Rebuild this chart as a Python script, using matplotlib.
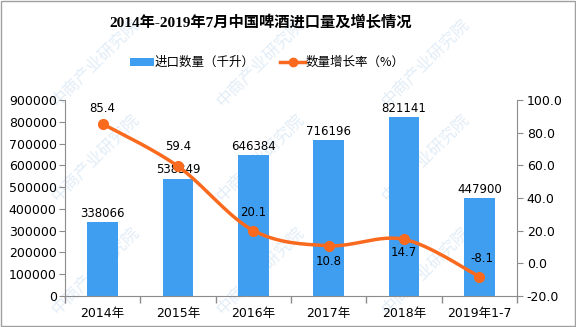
import numpy as np
import matplotlib
matplotlib.use("Agg")
import matplotlib.pyplot as plt
from matplotlib.patches import Rectangle

plt.rcParams['font.family'] = ['DejaVu Sans', 'Noto Sans CJK SC']

categories = ['2014年', '2015年', '2016年', '2017年', '2018年', '2019年1-7']
import_volume = [338066, 538349, 646384, 716196, 821141, 447900]
growth_rate = [85.4, 59.4, 20.1, 10.8, 14.7, -8.1]
left_ticks = [0, 100000, 200000, 300000, 400000, 500000, 600000, 700000, 800000, 900000]
right_ticks = [-20.0, 0.0, 20.0, 40.0, 60.0, 80.0, 100.0]

title = '2014年-2019年7月中国啤酒进口量及增长情况'
bar_label = '进口数量（千升）'
line_label = '数量增长率（%）'
watermark = '中商产业研究院'

BAR_C = '#409EF0'
LINE_C = '#FA6A1E'
AX_C = '#8C8C8C'

W, H = 576, 327
fig = plt.figure(figsize=(W / 100, H / 100), dpi=100)
fig.patch.set_facecolor('white')
fig.patches.append(Rectangle((0.001, 0.002), 0.997, 0.995, transform=fig.transFigure,
                             fill=False, edgecolor='#A0A0A0', linewidth=1.0))

ax = fig.add_axes([65 / W, 1 - 296 / H, (517 - 65) / W, (296 - 100) / H])
ax2 = ax.twinx()

x = np.arange(len(categories))
bars = ax.bar(x, import_volume, width=0.41, color=BAR_C, zorder=2)
ax.set_xlim(-0.5, len(categories) - 0.5)
ax.set_ylim(0, 900000)
ax.set_yticks(left_ticks)
ax.set_yticklabels([str(v) for v in left_ticks])
ax.set_xticks(x)
ax.set_xticklabels(categories)
ax.set_xticks(np.arange(-0.5, len(categories), 1.0), minor=True)
ax.tick_params(axis='x', which='major', length=0, pad=8, labelsize=9, colors='black')
ax.tick_params(axis='x', which='minor', length=5, color=AX_C, width=1)
ax.tick_params(axis='y', length=4, color=AX_C, labelsize=9, pad=2)

for s in ['top', 'right']:
    ax.spines[s].set_visible(False)
for s in ['left', 'bottom']:
    ax.spines[s].set_color(AX_C)
for s in ['top', 'left', 'bottom']:
    ax2.spines[s].set_visible(False)
ax2.spines['right'].set_color(AX_C)

for xi, v in zip(x, import_volume):
    ax.annotate(str(v), (xi, v), xytext=(0, 9), textcoords='offset pixels',
                ha='center', va='center', fontsize=8.5, zorder=5)

# smooth line (Excel-like Catmull-Rom bezier)
pts = np.column_stack([x.astype(float), np.array(growth_rate, dtype=float)])
ext = np.vstack([pts[0], pts, pts[-1]])
curve = []
t = np.linspace(0, 1, 30)[:, None]
for i in range(len(pts) - 1):
    p0 = ext[i + 1]
    p3 = ext[i + 2]
    c1 = p0 + (ext[i + 2] - ext[i]) / 6.0
    c2 = p3 - (ext[i + 3] - ext[i + 1]) / 6.0
    seg = ((1 - t) ** 3) * p0 + 3 * ((1 - t) ** 2) * t * c1 + 3 * (1 - t) * t ** 2 * c2 + t ** 3 * p3
    curve.append(seg if i == 0 else seg[1:])
curve = np.vstack(curve)
ax2.plot(curve[:, 0], curve[:, 1], color=LINE_C, linewidth=2.5, zorder=3, solid_capstyle='round')
ax2.plot(x, growth_rate, linestyle='none', marker='o', markersize=7, color=LINE_C, zorder=4)
ax2.set_ylim(-20, 100)
ax2.set_yticks(right_ticks)
ax2.set_yticklabels([f'{v:.1f}' for v in right_ticks])
ax2.tick_params(axis='y', length=4, color=AX_C, labelsize=9, pad=3)

offsets = [15, 20, 18, -16, -13, 18]
for xi, v, off in zip(x, growth_rate, offsets):
    ax2.annotate(f'{v:.1f}', (xi, v), xytext=(3 if xi == 5 else 0, off), textcoords='offset pixels',
                 ha='center', va='center', fontsize=8.5, zorder=5)

ax.set_zorder(1)
ax2.set_zorder(2)
ax.patch.set_visible(False)
ax2.patch.set_visible(False)

# title
fig.text(261 / W, 1 - 22 / H, title, ha='center', va='center', fontsize=11, fontweight='bold',
         family=['Liberation Serif', 'Noto Sans CJK SC'])

# legend
ly = 1 - 62 / H
fig.patches.append(Rectangle((130 / W, ly - 4 / H), 24 / W, 8 / H, transform=fig.transFigure,
                             facecolor=BAR_C, edgecolor='none'))
fig.text(155 / W, ly, bar_label, ha='left', va='center', fontsize=9,
         family=['Noto Sans CJK SC', 'DejaVu Sans'])
fig.lines.append(plt.Line2D([280 / W, 305 / W], [ly, ly], transform=fig.transFigure,
                            color=LINE_C, linewidth=2.5))
fig.lines.append(plt.Line2D([292.5 / W], [ly], transform=fig.transFigure, color=LINE_C,
                            marker='o', markersize=6))
fig.text(306 / W, ly, line_label, ha='left', va='center', fontsize=9,
         family=['Noto Sans CJK SC', 'DejaVu Sans'])

# watermarks
for wx in [60, 225, 390]:
    for wy in [110, 205, 318]:
        fig.text(wx / W, 1 - wy / H, watermark, rotation=45, ha='left', va='bottom',
                 fontsize=12, color='#8CB8E0', alpha=0.25, rotation_mode='anchor',
                 family=['Noto Sans CJK SC'], zorder=0)

fig.savefig('out.png', dpi=100)
